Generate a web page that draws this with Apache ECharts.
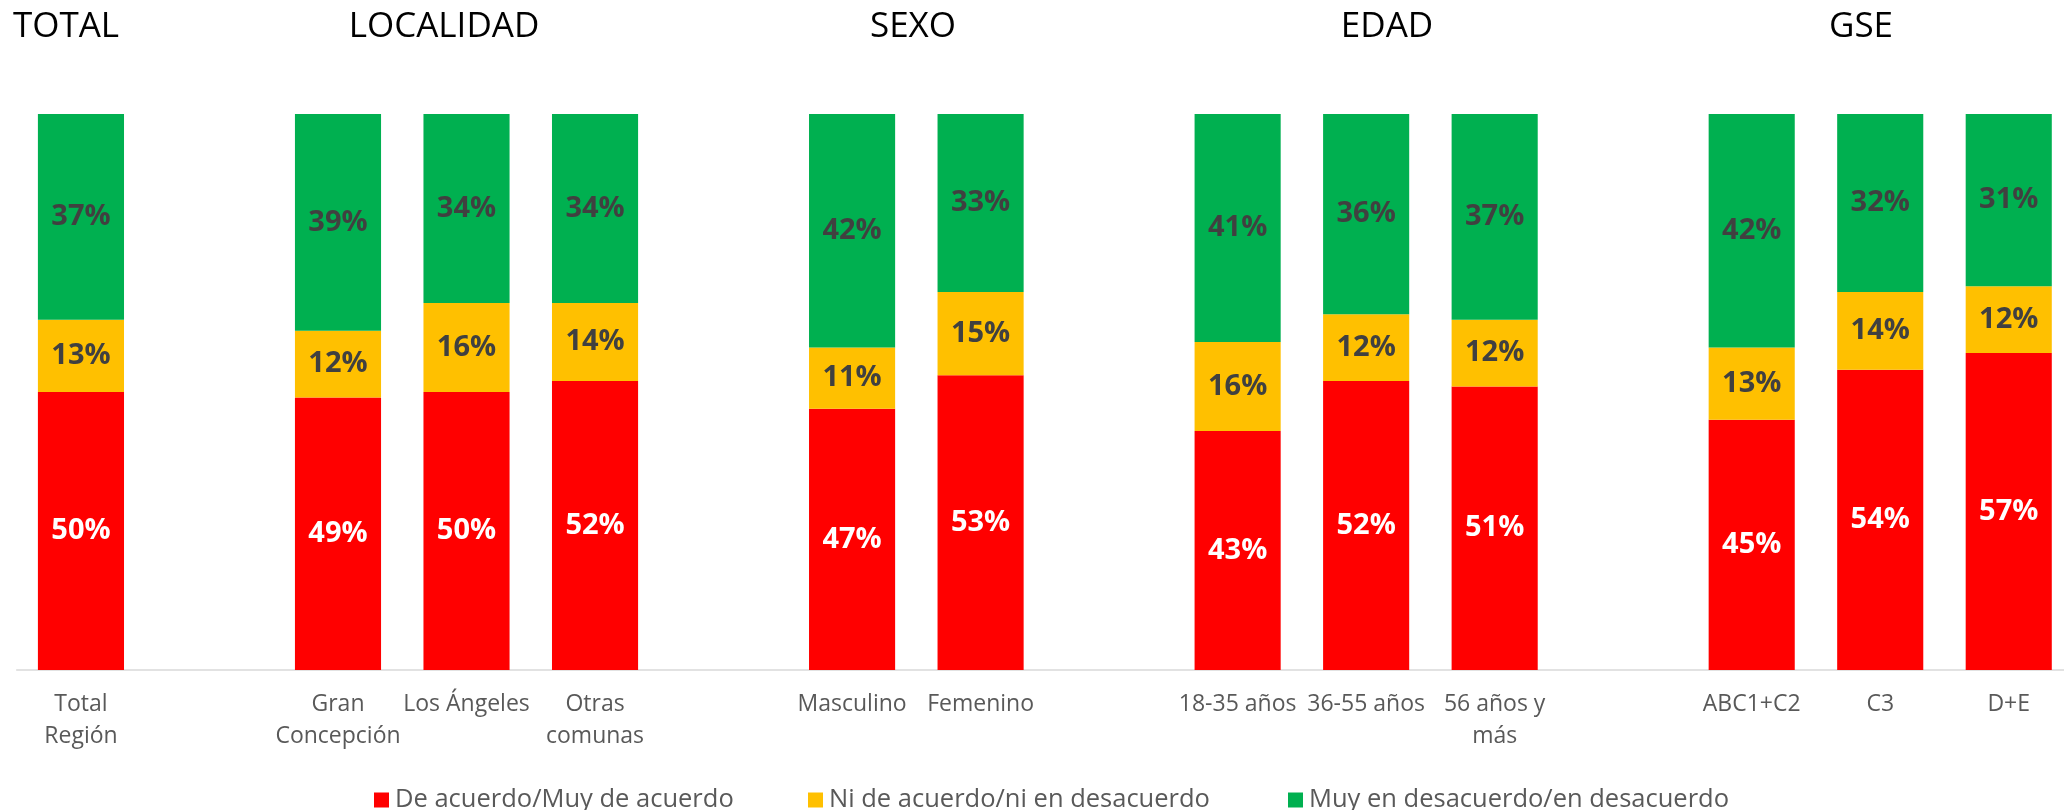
<!DOCTYPE html>
<html>
<head>
<meta charset="utf-8">
<title>Opinión por segmento</title>
<script src="https://cdn.jsdelivr.net/npm/echarts@6/dist/echarts.min.js"></script>
<style>
  html, body { margin: 0; padding: 0; background: #ffffff; }
  #chart { width: 2064px; height: 810px; }
</style>
</head>
<body>
<div id="chart"></div>
<script>
// Segments, with empty slots separating the groups
const categories = [
  'Total\nRegión', '',
  'Gran\nConcepción', 'Los Ángeles', 'Otras\ncomunas', '',
  'Masculino', 'Femenino', '',
  '18-35 años', '36-55 años', '56 años y\nmás', '',
  'ABC1+C2', 'C3', 'D+E'
];

// Group headings and the x centre of each heading
const groupTitles = ['TOTAL', 'LOCALIDAD', 'SEXO', 'EDAD', 'GSE'];
const groupTitleX = [66, 444, 913, 1387, 1861];

// Series names
const seriesNames = [
  'De acuerdo/Muy de acuerdo',
  'Ni de acuerdo/ni en desacuerdo',
  'Muy en desacuerdo/en desacuerdo'
];

// Percentages per segment (null = spacer slot)
const deAcuerdo    = [50, null, 49, 50, 52, null, 47, 53, null, 43, 52, 51, null, 45, 54, 57];
const niNi         = [13, null, 12, 16, 14, null, 11, 15, null, 16, 12, 12, null, 13, 14, 12];
const enDesacuerdo = [37, null, 39, 34, 34, null, 42, 33, null, 41, 36, 37, null, 42, 32, 31];

const colors = ['#FF0000', '#FFC000', '#00B050'];
const labelColors = ['#FFFFFF', '#404040', '#404040'];
const seriesData = [deAcuerdo, niNi, enDesacuerdo];

const FONT = "'Open Sans', 'Liberation Sans', sans-serif";

const chart = echarts.init(document.getElementById('chart'), null, { renderer: 'canvas' });

const series = seriesNames.map((name, i) => ({
  name: name,
  type: 'bar',
  stack: 'total',
  barCategoryGap: '33%',
  data: seriesData[i],
  itemStyle: { color: colors[i] },
  label: {
    show: true,
    position: 'inside',
    formatter: p => (p.value == null ? '' : p.value + '%'),
    color: labelColors[i],
    fontFamily: FONT,
    fontWeight: 'bold',
    fontSize: 29
  },
  emphasis: { disabled: true }
}));

const legendLeft = [369, 803, 1283];
const legends = seriesNames.map((name, i) => ({
  data: [name],
  left: legendLeft[i],
  top: 780,
  icon: 'rect',
  itemWidth: 15,
  itemHeight: 15,
  selectedMode: false,
  textStyle: {
    color: '#595959',
    fontFamily: FONT,
    fontSize: 25.5,
    lineHeight: 30,
    padding: [0, 0, 0, 1]
  }
}));

const titles = groupTitles.map((t, i) => ({
  type: 'text',
  x: groupTitleX[i],
  y: 27,
  style: {
    text: t,
    fill: '#000000',
    font: '35px ' + FONT,
    textAlign: 'center',
    textVerticalAlign: 'middle'
  }
}));

chart.setOption({
  animation: false,
  backgroundColor: '#ffffff',
  color: colors,
  grid: {
    left: 16.7,
    right: -9,
    top: 114,
    bottom: 140,
    containLabel: false,
    outerBoundsMode: 'none'
  },
  legend: legends,
  graphic: titles,
  xAxis: {
    type: 'category',
    data: categories,
    axisTick: { show: false },
    axisLine: { lineStyle: { color: '#D9D9D9', width: 1.5 } },
    axisLabel: {
      interval: 0,
      margin: 18,
      color: '#595959',
      fontFamily: FONT,
      fontSize: 23,
      lineHeight: 32
    }
  },
  yAxis: {
    type: 'value',
    min: 0,
    max: 100,
    show: false,
    splitLine: { show: false }
  },
  series: series
});
</script>
</body>
</html>
